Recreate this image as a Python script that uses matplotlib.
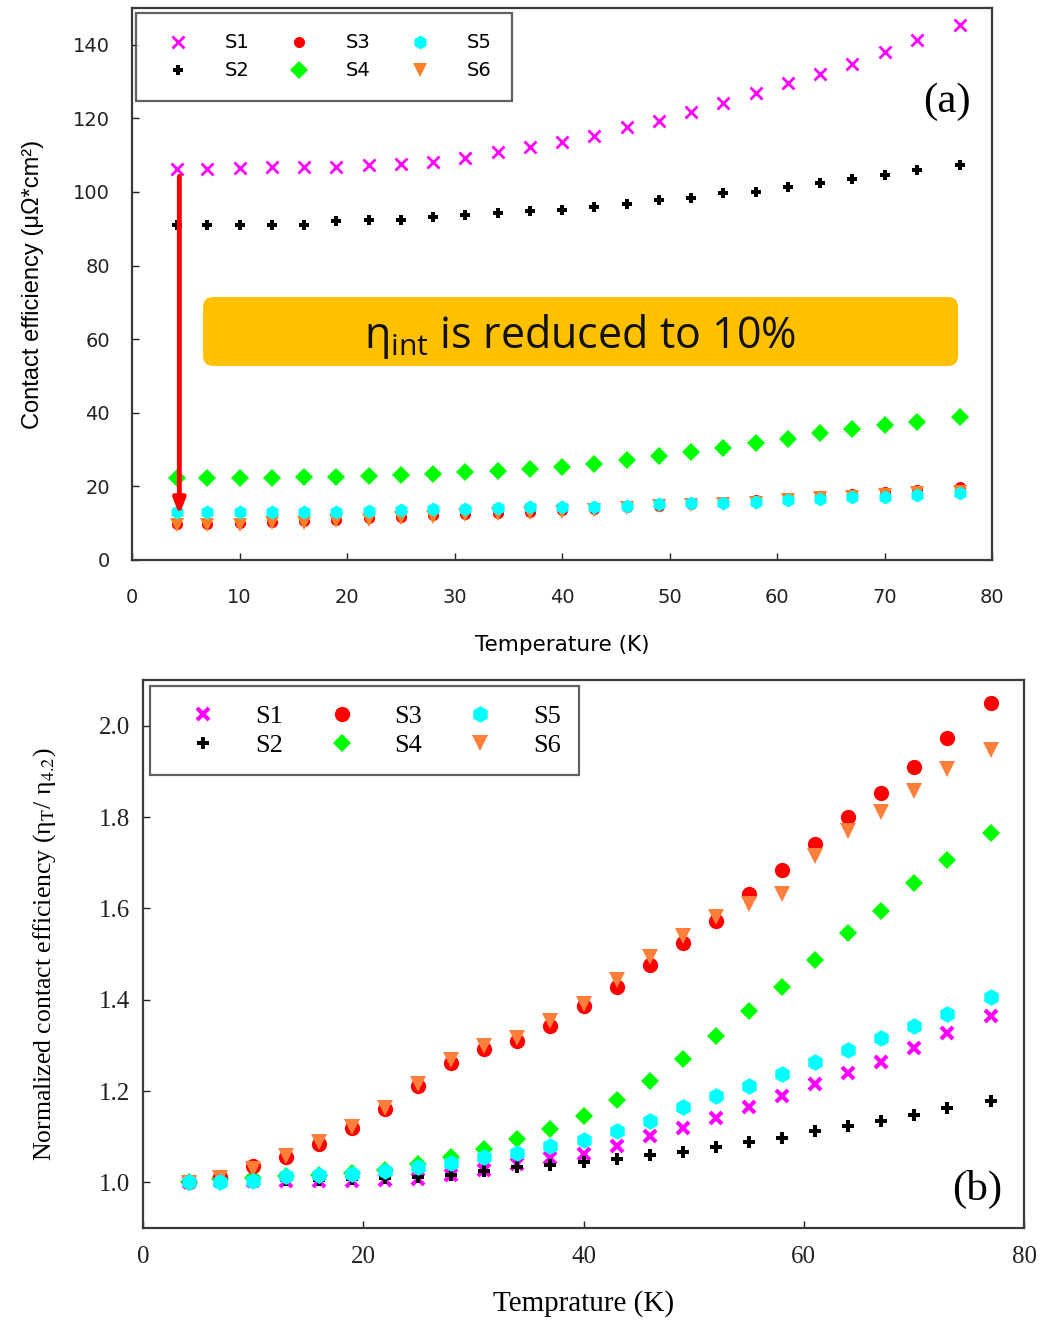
import matplotlib
matplotlib.use('Agg')
import matplotlib.pyplot as plt
from matplotlib.patches import FancyBboxPatch

# temperatures (K)
temp = [4.2, 7, 10, 13, 16, 19, 22, 25, 28, 31, 34, 37, 40, 43, 46, 49,
        52, 55, 58, 61, 64, 67, 70, 73, 77]

# (a) contact efficiency
s1_a = [106.3, 106.3, 106.4, 106.7, 106.7, 106.9, 107.2, 107.6, 108.2, 109.3, 110.8, 112.1, 113.5,
        115.3, 117.6, 119.4, 121.8, 124.3, 126.9, 129.7, 132.1, 134.7, 137.9, 141.3, 145.3]
s2_a = [90.9, 90.9, 90.9, 91.1, 91.1, 92.2, 92.4, 92.5, 93.3, 93.6, 94.3, 94.7, 95.2,
        95.9, 96.8, 97.7, 98.4, 99.6, 100.1, 101.4, 102.5, 103.5, 104.6, 105.9, 107.4]
s3_a = [9.7, 9.8, 10.0, 10.2, 10.5, 10.9, 11.3, 11.7, 12.2, 12.5, 12.7, 13.0, 13.5,
        13.9, 14.4, 14.8, 15.3, 15.8, 16.3, 16.9, 17.5, 18.0, 18.5, 19.1, 19.8]
s4_a = [22.2, 22.3, 22.3, 22.3, 22.6, 22.6, 22.8, 23.1, 23.3, 23.8, 24.2, 24.7, 25.2,
        26.0, 27.1, 28.2, 29.4, 30.3, 31.7, 33.0, 34.4, 35.5, 36.8, 37.5, 38.9]
s5_a = [13.1, 13.1, 13.1, 13.1, 13.1, 13.1, 13.4, 13.6, 13.8, 13.8, 14.0, 14.3, 14.4,
        14.5, 14.6, 15.1, 15.4, 15.5, 15.8, 16.3, 16.7, 17.0, 17.2, 17.6, 18.1]
s6_a = [9.5, 9.5, 9.5, 10.0, 10.1, 10.7, 10.9, 11.3, 11.8, 12.2, 12.5, 12.7, 13.1,
        13.7, 14.2, 14.6, 15.0, 15.3, 15.5, 16.3, 16.8, 17.2, 17.6, 18.1, 18.5]

# (b) normalized contact efficiency
s1_b = [1.0, 1.002, 1.003, 1.003, 1.003, 1.004, 1.005, 1.008, 1.015, 1.026, 1.040, 1.053, 1.063,
        1.080, 1.102, 1.119, 1.141, 1.165, 1.190, 1.216, 1.240, 1.264, 1.294, 1.326, 1.365]
s2_b = [1.0, 1.002, 1.004, 1.005, 1.006, 1.008, 1.009, 1.011, 1.017, 1.024, 1.033, 1.039, 1.045,
        1.051, 1.059, 1.067, 1.078, 1.089, 1.098, 1.112, 1.123, 1.134, 1.147, 1.162, 1.178]
s3_b = [1.0, 1.012, 1.035, 1.055, 1.085, 1.120, 1.160, 1.210, 1.262, 1.292, 1.310, 1.343, 1.387,
        1.428, 1.476, 1.524, 1.573, 1.632, 1.684, 1.742, 1.800, 1.852, 1.909, 1.973, 2.049]
s4_b = [1.0, 1.007, 1.010, 1.013, 1.017, 1.020, 1.026, 1.040, 1.055, 1.074, 1.094, 1.116, 1.145,
        1.180, 1.223, 1.271, 1.320, 1.376, 1.428, 1.487, 1.547, 1.595, 1.655, 1.705, 1.766]
s5_b = [1.0, 1.0, 1.002, 1.013, 1.015, 1.018, 1.024, 1.033, 1.042, 1.055, 1.064, 1.079, 1.093,
        1.113, 1.135, 1.164, 1.190, 1.212, 1.238, 1.264, 1.290, 1.316, 1.342, 1.368, 1.405]
s6_b = [0.998, 1.010, 1.030, 1.058, 1.088, 1.122, 1.163, 1.216, 1.268, 1.298, 1.316, 1.354, 1.391,
        1.443, 1.493, 1.539, 1.580, 1.610, 1.631, 1.714, 1.769, 1.811, 1.856, 1.906, 1.946]

labels = ['S1', 'S2', 'S3', 'S4', 'S5', 'S6']

plt.rcParams['mathtext.rm'] = 'Open Sans'
plt.rcParams['mathtext.it'] = 'Open Sans:italic'

frame_col = '#3a3a3a'

fig = plt.figure(figsize=(10.43, 13.21), dpi=100)

# ---------------- (a) ----------------
ax1 = fig.add_axes([0.1266, 0.5761, 0.8245, 0.4179])
ax1.set_xlim(0, 80)
ax1.set_ylim(0, 150)

# style for each series: (marker, color, size, edge width)
sty_a = {
    'S1': dict(marker='x', color='#ff00ff', ms=9, mew=2.0),
    'S2': dict(marker='P', color='black', ms=7.5, mew=0),
    'S3': dict(marker='o', color='#ff0000', ms=8, mew=0),
    'S4': dict(marker='D', color='#00ff00', ms=9, mew=0),
    'S5': dict(marker='h', color='#00ffff', ms=10, mew=0),
    'S6': dict(marker='v', color='#ff7f27', ms=10, mew=0),
}
data_a = dict(zip(labels, [s1_a, s2_a, s3_a, s4_a, s5_a, s6_a]))
handles = {}
for lab in ['S1', 'S2', 'S4', 'S3', 'S6', 'S5']:
    st = sty_a[lab]
    h, = ax1.plot(temp, data_a[lab], linestyle='none', marker=st['marker'], color=st['color'],
                  markersize=st['ms'], markeredgewidth=st['mew'], label=lab)
    handles[lab] = h

ax1.set_xticks(range(0, 81, 10))
ax1.set_yticks(range(0, 141, 20))
ax1.tick_params(direction='in', length=5, width=1, labelsize=14, colors='#222222')
ax1.tick_params(axis='x', pad=20)
ax1.tick_params(axis='y', pad=16)
for sp in ax1.spines.values():
    sp.set_color(frame_col)
    sp.set_linewidth(1.6)
ax1.set_xlabel('Temperature (K)', fontsize=15.5, labelpad=20)
ax1.set_ylabel('Contact efficiency (μΩ*cm²)', fontsize=17, labelpad=21, family='Liberation Sans')

leg = ax1.legend([handles[l] for l in labels], labels, loc='upper left', ncol=3,
                 bbox_to_anchor=(0.005, 0.991), borderaxespad=0, fontsize=14, frameon=True,
                 fancybox=False, edgecolor=frame_col, handlelength=2.2, handletextpad=1.3,
                 columnspacing=1.45, borderpad=1.05, labelspacing=0.47, numpoints=1)
leg.get_frame().set_linewidth(1.6)

ax1.text(0.975, 0.83, '(a)', transform=ax1.transAxes, ha='right', va='center',
         fontsize=31, family='Liberation Serif')

# orange banner
box = FancyBboxPatch((0.0826, 0.3514), 0.878, 0.125, transform=ax1.transAxes,
                     boxstyle='round,pad=0,rounding_size=0.012', mutation_aspect=1.56,
                     facecolor='#ffc000', edgecolor='none', zorder=1)
ax1.add_patch(box)
ax1.text(0.521, 0.405, r'$\mathrm{η}_{\mathrm{int}}$ is reduced to 10%', transform=ax1.transAxes,
         ha='center', va='center', fontsize=31, family='Open Sans', math_fontfamily='custom',
         color='#111111', zorder=2)

# red arrow
ax1.annotate('', xy=(4.4, 11.5), xytext=(4.4, 105),
             arrowprops=dict(arrowstyle='-|>,head_width=0.35,head_length=0.9',
                             color='#ff0000', lw=3.5), zorder=3)

# ---------------- (b) ----------------
ax2 = fig.add_axes([0.1371, 0.0704, 0.8447, 0.4148])
ax2.set_xlim(0, 80)
ax2.set_ylim(0.9, 2.1)

sty_b = {
    'S1': dict(marker='x', color='#ff00ff', ms=9, mew=3.0),
    'S2': dict(marker='P', color='black', ms=8, mew=0),
    'S3': dict(marker='o', color='#ff0000', ms=11, mew=0),
    'S4': dict(marker='D', color='#00ff00', ms=9.5, mew=0),
    'S5': dict(marker='h', color='#00ffff', ms=12, mew=0),
    'S6': dict(marker='v', color='#ff7f3a', ms=11, mew=0),
}
data_b = dict(zip(labels, [s1_b, s2_b, s3_b, s4_b, s5_b, s6_b]))
handles_b = {}
for lab in ['S1', 'S2', 'S4', 'S3', 'S6', 'S5']:
    st = sty_b[lab]
    h, = ax2.plot(temp, data_b[lab], linestyle='none', marker=st['marker'], color=st['color'],
                  markersize=st['ms'], markeredgewidth=st['mew'], label=lab)
    handles_b[lab] = h

ax2.set_xticks(range(0, 81, 20))
ax2.set_yticks([1.0, 1.2, 1.4, 1.6, 1.8, 2.0])
ax2.set_yticklabels(['1.0', '1.2', '1.4', '1.6', '1.8', '2.0'])
for lbl in ax2.get_xticklabels() + ax2.get_yticklabels():
    lbl.set_family('Liberation Serif')
ax2.tick_params(direction='in', length=5, width=1, labelsize=18, colors='#222222')
ax2.tick_params(axis='x', pad=13)
ax2.tick_params(axis='y', pad=9)
for sp in ax2.spines.values():
    sp.set_color(frame_col)
    sp.set_linewidth(1.6)
ax2.set_xlabel('Temprature (K)', fontsize=21, family='Liberation Serif', labelpad=16)
ax2.set_ylabel(r'Normalized contact efficiency (η$_{\mathrm{T}}$/ η$_{4.2}$)', fontsize=18.5,
               family='Liberation Serif', math_fontfamily='stix', labelpad=30)

leg2 = ax2.legend([handles_b[l] for l in labels], labels, loc='upper left', ncol=3,
                  bbox_to_anchor=(0.008, 0.989), borderaxespad=0,
                  prop={'family': 'Liberation Serif', 'size': 19},
                  frameon=True, fancybox=False, edgecolor=frame_col, handlelength=2.6,
                  handletextpad=0.7, columnspacing=0.9, borderpad=0.7, labelspacing=0.2,
                  numpoints=1)
leg2.get_frame().set_linewidth(1.6)

ax2.text(0.975, 0.07, '(b)', transform=ax2.transAxes, ha='right', va='center',
         fontsize=31, family='Liberation Serif')

fig.savefig('out.png', dpi=100)
